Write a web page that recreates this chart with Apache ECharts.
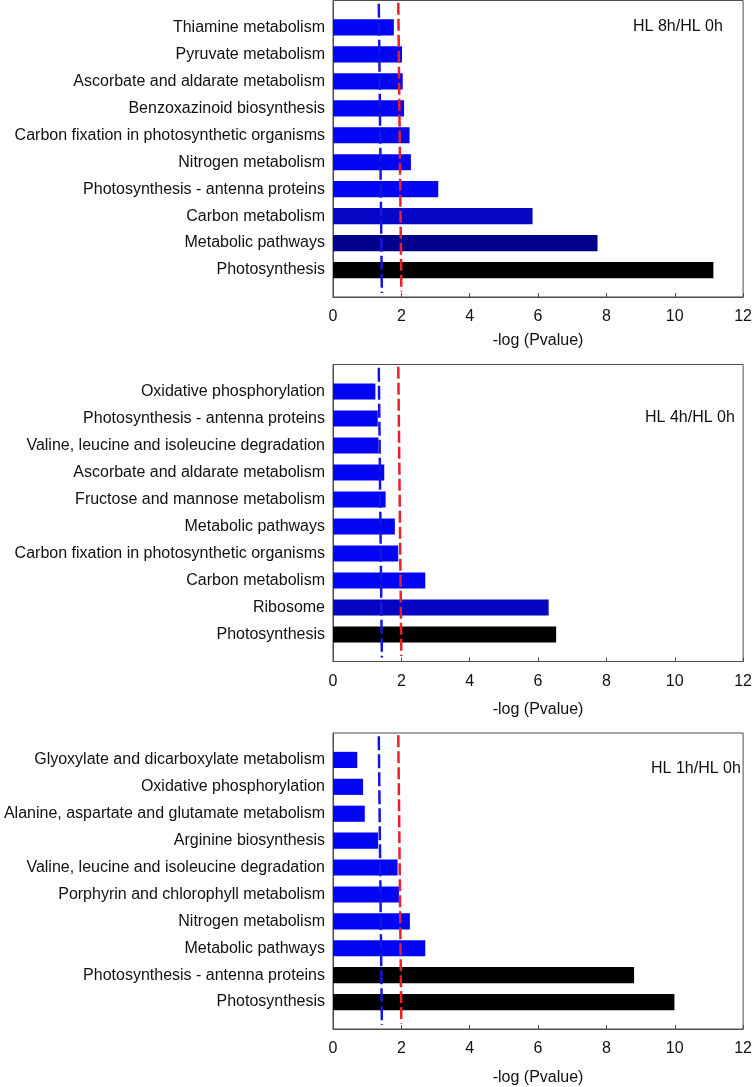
<!DOCTYPE html>
<html>
<head>
<meta charset="utf-8">
<script src="https://cdn.jsdelivr.net/npm/echarts@6/dist/echarts.min.js"></script>
<style>
html,body{margin:0;padding:0;background:#fff;}
#main{width:755px;height:1087px;}
</style>
</head>
<body>
<div id="main"></div>
<script>
// ---- data (top-to-bottom order as shown) ----
const cats8h = ['Thiamine metabolism','Pyruvate metabolism','Ascorbate and aldarate metabolism','Benzoxazinoid biosynthesis','Carbon fixation in photosynthetic organisms','Nitrogen metabolism','Photosynthesis - antenna proteins','Carbon metabolism','Metabolic pathways','Photosynthesis'];
const vals8h = [1.78, 2.02, 2.04, 2.08, 2.24, 2.28, 3.08, 5.84, 7.74, 11.13];

const cats4h = ['Oxidative phosphorylation','Photosynthesis - antenna proteins','Valine, leucine and isoleucine degradation','Ascorbate and aldarate metabolism','Fructose and mannose metabolism','Metabolic pathways','Carbon fixation in photosynthetic organisms','Carbon metabolism','Ribosome','Photosynthesis'];
const vals4h = [1.24, 1.31, 1.33, 1.50, 1.54, 1.81, 1.91, 2.70, 6.31, 6.53];

const cats1h = ['Glyoxylate and dicarboxylate metabolism','Oxidative phosphorylation','Alanine, aspartate and glutamate metabolism','Arginine biosynthesis','Valine, leucine and isoleucine degradation','Porphyrin and chlorophyll metabolism','Nitrogen metabolism','Metabolic pathways','Photosynthesis - antenna proteins','Photosynthesis'];
const vals1h = [0.71, 0.88, 0.93, 1.32, 1.89, 1.93, 2.25, 2.70, 8.81, 9.99];

const panelLabels = ['HL 8h/HL 0h','HL 4h/HL 0h','HL 1h/HL 0h'];
const xTicks = [0, 2, 4, 6, 8, 10, 12];
const xTitle = '-log (Pvalue)';

// threshold lines: x at top end, x at bottom end
const blueThreshold = [1.34, 1.43];
const redThreshold = [1.91, 2.00];

// ---- styles (kept separate) ----
const B = '#0505f5';
const colors8h = [B,B,B,B,B,B,B,'#0606c6','#00008a','#000000'];
const colors4h = [B,B,B,B,B,B,B,B,'#0606c2','#000000'];
const colors1h = [B,B,B,B,B,B,B,B,'#000000','#000000'];

const panels = [
  {cats: cats8h, vals: vals8h, colors: colors8h, top: 0.5, height: 296.5, nameGap: 36, label: panelLabels[0], lx: 633, ly: 28},
  {cats: cats4h, vals: vals4h, colors: colors4h, top: 364.5, height: 297, nameGap: 40, label: panelLabels[1], lx: 645, ly: 419},
  {cats: cats1h, vals: vals1h, colors: colors1h, top: 733, height: 297, nameGap: 41, label: panelLabels[2], lx: 651, ly: 770}
];

const FONT = 'Liberation Sans, Arial, sans-serif';
const grid = [], xAxis = [], yAxis = [], series = [], graphic = [];
const nP = panels.length;

panels.forEach((p, i) => {
  grid.push({left: 333, width: 412.5, top: p.top, height: p.height, show: true,
    borderColor: '#4d4d4d', borderWidth: 1, backgroundColor: '#fff'});
  xAxis.push({type: 'value', gridIndex: i, position: 'bottom', min: xTicks[0], max: xTicks[xTicks.length-1],
    interval: xTicks[1]-xTicks[0],
    name: xTitle, nameLocation: 'middle', nameGap: p.nameGap,
    nameTextStyle: {fontFamily: FONT, fontSize: 16, color: '#111'},
    axisLine: {show: true, onZero: false, lineStyle: {color: '#4d4d4d', width: 1}},
    axisTick: {show: true, inside: true, length: 4, lineStyle: {color: '#4d4d4d'}},
    axisLabel: {fontFamily: FONT, fontSize: 16, color: '#111', margin: 12},
    splitLine: {show: false}});
  // category axis padded with one empty slot at each end
  yAxis.push({type: 'category', gridIndex: i, inverse: true, boundaryGap: false,
    data: [''].concat(p.cats, ['']),
    axisLine: {show: true, onZero: false, lineStyle: {color: '#4d4d4d'}},
    axisTick: {show: false},
    axisLabel: {fontFamily: FONT, fontSize: 16, color: '#111', margin: 8, interval: 0},
    splitLine: {show: false}});
  series.push({type: 'bar', xAxisIndex: i, yAxisIndex: i, barCategoryGap: '40%',
    data: [null].concat(p.vals.map((v, k) => ({value: v, itemStyle: {color: p.colors[k]}})), [null]),
    silent: true, animation: false, z: 2});
  graphic.push({type: 'text', left: p.lx, top: p.ly - 9,
    style: {text: p.label, font: '16px ' + FONT, fill: '#111'}});
});

// hidden continuous y axes for the slanted threshold lines
panels.forEach((p, i) => {
  yAxis.push({type: 'value', gridIndex: i, min: 0, max: p.cats.length + 1, inverse: true, show: false,
    axisLine: {onZero: false}});
  const yi = nP + i;
  series.push({type: 'line', xAxisIndex: i, yAxisIndex: yi, symbol: 'none', silent: true, animation: false, z: 5,
    data: [[blueThreshold[0], 0.12], [blueThreshold[1], p.cats.length + 0.85]],
    lineStyle: {color: '#1515e0', width: 2.5, type: [14, 4]}});
  series.push({type: 'line', xAxisIndex: i, yAxisIndex: yi, symbol: 'none', silent: true, animation: false, z: 5,
    data: [[redThreshold[0], 0.08], [redThreshold[1], p.cats.length + 0.8]],
    lineStyle: {color: '#e8202a', width: 2.5, type: [12, 4]}});
});

const chart = echarts.init(document.getElementById('main'), null, {renderer: 'canvas'});
chart.setOption({animation: false, backgroundColor: '#fff', grid, xAxis, yAxis, series, graphic});
</script>
</body>
</html>
